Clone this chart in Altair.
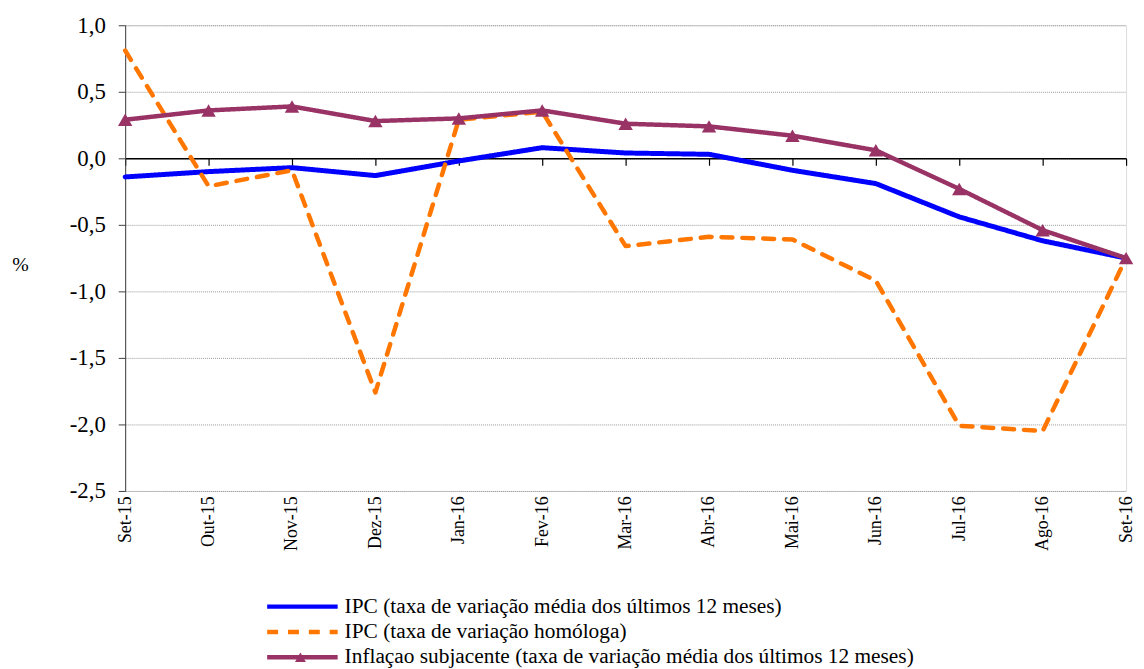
import altair as alt
import pandas as pd

months = ["Set-15", "Out-15", "Nov-15", "Dez-15", "Jan-16", "Fev-16", "Mar-16",
          "Abr-16", "Mai-16", "Jun-16", "Jul-16", "Ago-16", "Set-16"]
ipc_media = [-0.14, -0.10, -0.07, -0.13, -0.02, 0.08, 0.04, 0.03, -0.09, -0.19, -0.44, -0.62, -0.75]
ipc_homologa = [0.81, -0.21, -0.09, -1.76, 0.29, 0.35, -0.66, -0.59, -0.61, -0.92, -2.01, -2.05, -0.75]
inflacao_subjacente = [0.29, 0.36, 0.39, 0.28, 0.30, 0.36, 0.26, 0.24, 0.17, 0.06, -0.23, -0.54, -0.75]

series_names = [
    "IPC (taxa de variação média dos últimos 12 meses)",
    "IPC (taxa de variação homóloga)",
    "Inflaçao subjacente (taxa de variação média dos últimos 12 meses)",
]
colors = ["#0000FF", "#FF7700", "#993366"]
widths = [5, 4.5, 4.5]
dashes = [[1, 0], [11, 10], [1, 0]]
y_ticks = [-2.5, -2.0, -1.5, -1.0, -0.5, 0.0, 0.5, 1.0]

rows = []
for name, vals, w in zip(series_names, [ipc_media, ipc_homologa, inflacao_subjacente], widths):
    for m, v in zip(months, vals):
        rows.append({"mes": m, "serie": name, "valor": v, "largura": w})
df = pd.DataFrame(rows)

FONT = "Liberation Serif"
W, H = 1008, 469
zero_from_bottom = H * (0 - (-2.5)) / 3.5

y_scale = alt.Scale(domain=[-2.5, 1.0], nice=False, zero=False)
y_axis = alt.Axis(
    values=y_ticks,
    labelExpr="(datum.value < 0 ? '-' : '') + replace(format(abs(datum.value), '.1f'), '.', ',')",
    labelFontSize=23, labelFont=FONT, labelColor="black", labelPadding=13,
    tickSize=7, tickColor="#404040", domainColor="#404040",
    grid=True, gridColor="#999999", gridDash=[1, 1], gridWidth=1,
    title="%", titleAngle=0, titleFont=FONT, titleFontSize=20, titleFontWeight="normal",
    titleColor="black",
    titleAlign="center", titleBaseline="middle", titleX=-106, titleY=241,
)

leg = alt.Legend(
    title=None, orient="none", legendX=164, legendY=571, direction="vertical",
    symbolType="M-3,0L3,0", symbolSize=560, symbolStrokeWidth=4.5,
    labelFont=FONT, labelFontSize=21.5, labelColor="black", labelLimit=900,
    labelOffset=28, rowPadding=0.5, padding=0,
)

x_scale = alt.Scale(domain=months, padding=0)

lines = alt.Chart(df).mark_line(strokeCap="round", strokeJoin="round").encode(
    x=alt.X("mes:N", sort=months, scale=x_scale,
            axis=alt.Axis(title=None, labelAngle=270, labelFont=FONT, labelFontSize=18,
                          labelColor="black", labelPadding=5, ticks=False, tickSize=0,
                          domain=False, grid=False, orient="bottom")),
    y=alt.Y("valor:Q", scale=y_scale, axis=y_axis),
    color=alt.Color("serie:N", scale=alt.Scale(domain=series_names, range=colors), legend=leg),
    strokeDash=alt.StrokeDash("serie:N", scale=alt.Scale(domain=series_names, range=dashes), legend=leg),
    strokeWidth=alt.StrokeWidth("largura:Q", scale=None, legend=None),
)

tri_leg = alt.Legend(
    title=None, orient="none", legendX=171, legendY=631, labelExpr="''",
    symbolFillColor="#993366", symbolStrokeColor="#993366", symbolStrokeWidth=0,
    symbolSize=120, symbolOpacity=1, padding=0,
)

points = alt.Chart(df).transform_filter(
    alt.datum.serie == series_names[2]
).transform_calculate(marca="'tri'").mark_point(filled=True, size=210, opacity=1).encode(
    x=alt.X("mes:N", sort=months, scale=x_scale, axis=None),
    y=alt.Y("valor:Q", scale=y_scale),
    color=alt.value("#993366"),
    shape=alt.Shape("marca:N", scale=alt.Scale(domain=["tri"], range=["triangle-up"]), legend=tri_leg),
)

zero_axis = alt.Chart(df).mark_point(opacity=0).encode(
    x=alt.X("mes:N", sort=months, scale=x_scale,
            axis=alt.Axis(title=None, labels=False, grid=False, domain=True, domainColor="black",
                          domainWidth=1.5, ticks=True, tickColor="black", tickSize=7,
                          tickWidth=1.2, orient="bottom", offset=-zero_from_bottom)),
    y=alt.Y("valor:Q", scale=y_scale),
)

chart = alt.layer(lines, points, zero_axis).resolve_scale(x="independent").properties(
    width=W, height=H,
    autosize=alt.AutoSizeParams(type="none"),
    padding={"left": 118, "top": 15, "right": 10, "bottom": 188},
).configure_view(stroke=None).configure(font=FONT)

chart.save("out.html", embed_options={"renderer": "svg", "actions": False})
